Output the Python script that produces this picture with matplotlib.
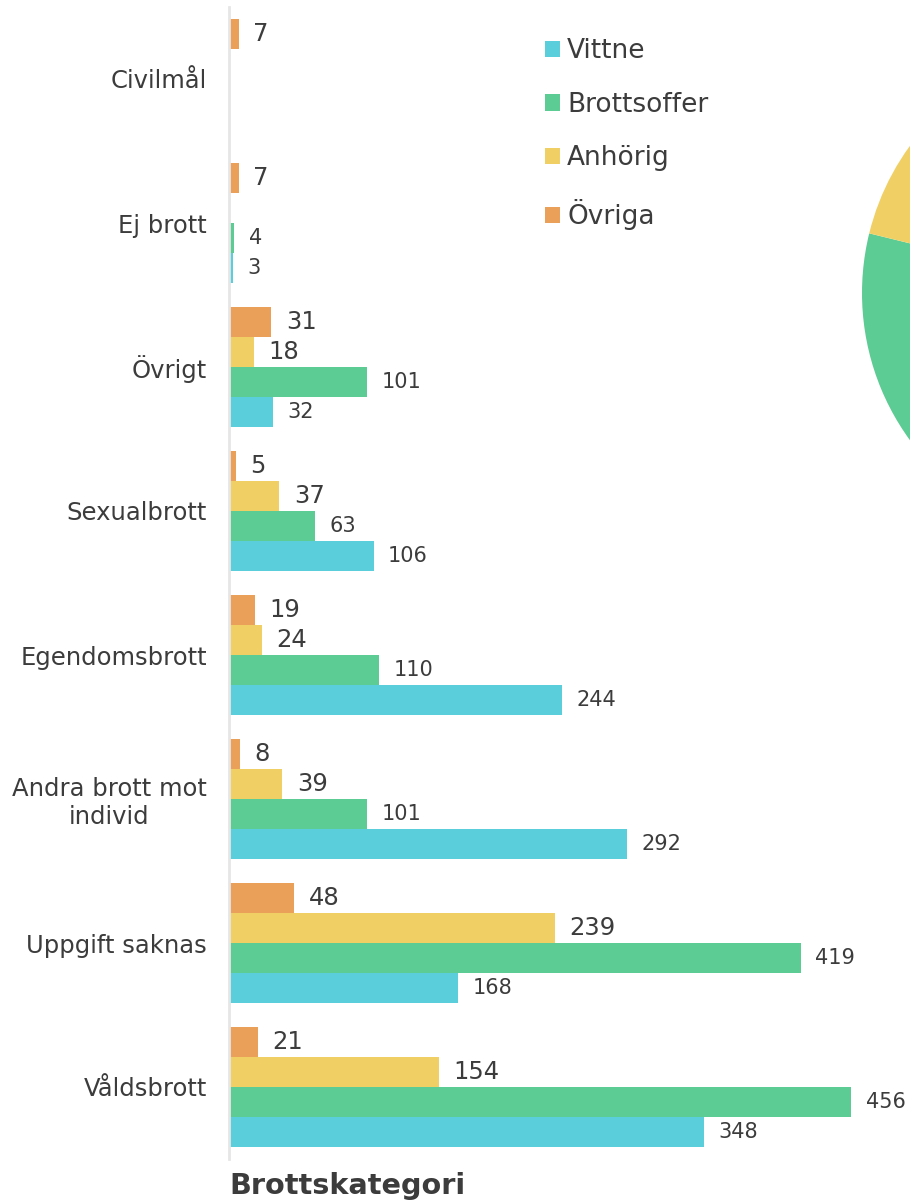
import numpy as np
import matplotlib
matplotlib.use("Agg")
import matplotlib.pyplot as plt
from matplotlib.patches import Patch

plt.rcParams['font.family'] = ['DejaVu Sans']

categories = ["Civilmål", "Ej brott", "Övrigt", "Sexualbrott", "Egendomsbrott",
              "Andra brott mot\nindivid", "Uppgift saknas", "Våldsbrott"]
series_names = ["Vittne", "Brottsoffer", "Anhörig", "Övriga"]
vittne = [0, 3, 32, 106, 244, 292, 168, 348]
brottsoffer = [0, 4, 101, 63, 110, 101, 419, 456]
anhorig = [0, 0, 18, 37, 24, 39, 239, 154]
ovriga = [7, 7, 31, 5, 19, 8, 48, 21]
colors = ["#5BCEDC", "#5DCB94", "#F0D065", "#EBA05A"]
label_sizes = [15, 15, 17.5, 17.5]
text_color = "#3c3c3c"

series = [vittne, brottsoffer, anhorig, ovriga]

W, H = 910, 1203
fig = plt.figure(figsize=(W / 100, H / 100), dpi=100)

# pie (totals per role), mostly outside the figure on the right
totals = [sum(s) for s in series]
pax = fig.add_axes([862 / W, 1 - 543 / H, 500 / W, 500 / H])
pax.pie(totals, colors=colors, startangle=90, counterclock=False, radius=1)
pax.set_xlim(-1, 1)
pax.set_ylim(-1, 1)
pax.set_axis_off()

ax = fig.add_axes([229 / W, 1 - 1159 / H, 622 / W, 1152 / H])
n = len(categories)
ypos = np.arange(n)[::-1]  # Civilmål at top
h = 0.21
offsets = [-1.5 * h, -0.5 * h, 0.5 * h, 1.5 * h]
for vals, col, off, fs in zip(series, colors, offsets, label_sizes):
    y = ypos + off
    ax.barh(y, vals, height=h, color=col, edgecolor="none")
    for yy, v in zip(y, vals):
        if v > 0:
            ax.annotate(str(v), (v, yy), xytext=(10.5, 0), textcoords="offset points",
                        ha="left", va="center", fontsize=fs, color=text_color,
                        annotation_clip=False)

ax.set_xlim(0, 456)
ax.set_ylim(-0.5, n - 0.5)
ax.set_yticks(ypos)
ax.set_yticklabels(categories, fontsize=17.5, color=text_color, multialignment="center")
ax.tick_params(axis="y", length=0, pad=16)
ax.set_xticks([])
for s in ["top", "right", "bottom"]:
    ax.spines[s].set_visible(False)
ax.spines["left"].set_color("#e6e6e6")
ax.spines["left"].set_linewidth(2)

fig.text(229 / W, 1 - 1186 / H, "Brottskategori", fontsize=20.7, fontweight="bold",
         color=text_color, ha="left", va="center")

handles = [Patch(facecolor=c, edgecolor="none") for c in colors]
leg = fig.legend(handles, series_names, loc="upper left",
                 bbox_to_anchor=(545 / W, 1 - 38 / H), frameon=False,
                 fontsize=19, handlelength=0.57, handleheight=0.57,
                 handletextpad=0.27, labelspacing=1.05, borderaxespad=0,
                 borderpad=0)
for t in leg.get_texts():
    t.set_color(text_color)

fig.savefig("out.png", dpi=100)
